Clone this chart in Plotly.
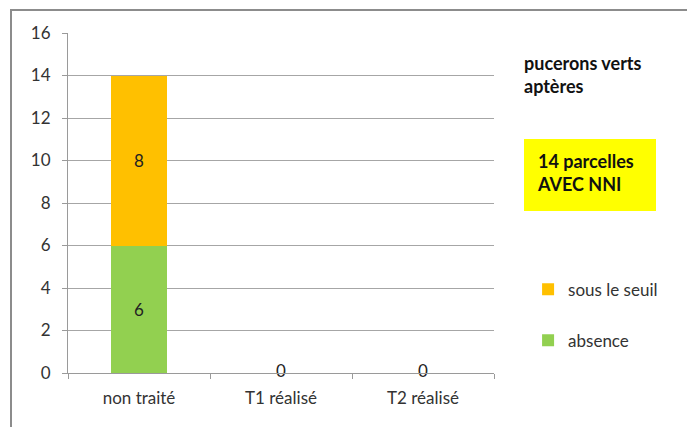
import plotly.graph_objects as go

categories = ["non traité", "T1 réalisé", "T2 réalisé"]
absence = [6, 0, 0]
sous_le_seuil = [8, 0, 0]
y_ticks = [0, 2, 4, 6, 8, 10, 12, 14, 16]

FONT = "Lato, 'Liberation Sans', sans-serif"

def lbl(vals):
    return [str(v) if v > 0 else "" for v in vals]

fig = go.Figure()
fig.add_trace(go.Bar(
    x=categories, y=absence, name="absence",
    marker=dict(color="#92D050", line=dict(width=0)),
    text=lbl(absence), textposition="inside", insidetextanchor="middle",
    textfont=dict(size=17, color="#222222", family=FONT),
    legendgroup="a", legendrank=2,
))
fig.add_trace(go.Bar(
    x=categories, y=sous_le_seuil, name="sous le seuil",
    marker=dict(color="#FFC000", line=dict(width=0)),
    text=lbl(sous_le_seuil), textposition="inside", insidetextanchor="middle",
    textfont=dict(size=17, color="#222222", family=FONT),
    legendgroup="b", legendrank=1,
))
# zero labels for empty categories
totals = [a + b for a, b in zip(absence, sous_le_seuil)]
zero_x = [c for c, t in zip(categories, totals) if t == 0]
fig.add_trace(go.Scatter(
    x=zero_x, y=[0] * len(zero_x), mode="text", text=["0"] * len(zero_x),
    textposition="middle center", textfont=dict(size=17, color="#222222", family=FONT),
    showlegend=False, hoverinfo="skip", cliponaxis=False,
))

# page body has an 8px margin: plot area is placed so it lands at
# x 68..494, y 33..373 in the browser window
fig.update_layout(
    width=695, height=427,
    barmode="stack", bargap=0.6,
    margin=dict(l=60, r=209, t=25, b=62),
    paper_bgcolor="white", plot_bgcolor="white",
    font=dict(family=FONT, size=17, color="#333333"),
    legend=dict(
        x=1.08, y=0.298, xanchor="left", yanchor="top",
        traceorder="grouped", tracegroupgap=26,
        font=dict(size=17, color="#333333", family=FONT),
        itemwidth=30, bgcolor="rgba(0,0,0,0)",
    ),
    xaxis=dict(
        showline=True, linecolor="#9a9a9a", linewidth=1,
        ticks="outside", tickson="boundaries", ticklen=5, tickcolor="#9a9a9a",
        tickfont=dict(size=17, color="#333333"),
        showgrid=False, ticklabelstandoff=10,
    ),
    yaxis=dict(
        range=[0, 16], tickvals=y_ticks,
        showline=True, linecolor="#9a9a9a", linewidth=1,
        ticks="outside", ticklen=5, tickcolor="#9a9a9a",
        showgrid=True, gridcolor="#a6a6a6", gridwidth=1,
        zeroline=False,
        tickfont=dict(size=17, color="#333333"),
        ticklabelstandoff=8,
    ),
    shapes=[
        dict(type="rect", xref="paper", yref="paper",
             x0=(11 - 68) / 426, x1=(688 - 68) / 426,
             y0=-0.4, y1=(373 - 10) / 340,
             line=dict(color="#8c8c8c", width=2), fillcolor="rgba(0,0,0,0)", layer="below"),
        dict(type="rect", xref="paper", yref="paper",
             x0=(524 - 68) / 426, x1=(656 - 68) / 426,
             y0=(373 - 211) / 340, y1=(373 - 139) / 340,
             line=dict(width=0), fillcolor="#FFFF00", layer="below"),
    ],
    annotations=[
        dict(xref="paper", yref="paper", x=(522 - 68) / 426, y=(373 - 50) / 340,
             xanchor="left", yanchor="top", align="left", showarrow=False,
             text="<b>pucerons verts<br>aptères</b>",
             font=dict(size=18, color="#111111", family=FONT)),
        dict(xref="paper", yref="paper", x=(535 - 68) / 426, y=(373 - 148) / 340,
             xanchor="left", yanchor="top", align="left", showarrow=False,
             text="<b>14 parcelles<br>AVEC NNI</b>",
             font=dict(size=18, color="#111111", family=FONT)),
    ],
)

fig.write_html("out.html")
